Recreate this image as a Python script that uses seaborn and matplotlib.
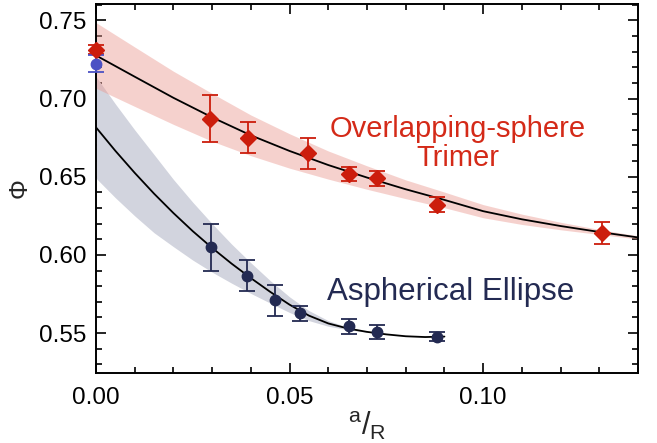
import numpy as np
import pandas as pd
import matplotlib
matplotlib.use("Agg")
import matplotlib.pyplot as plt
from matplotlib.ticker import MultipleLocator
import seaborn as sns

# Measured packing fractions
x_trimer = [0.0, 0.0295, 0.0392, 0.0547, 0.0654, 0.0725, 0.0880, 0.1307]
phi_trimer = [0.7312, 0.687, 0.675, 0.665, 0.652, 0.649, 0.632, 0.614]
err_trimer = [0.003, 0.015, 0.010, 0.010, 0.0045, 0.005, 0.0048, 0.007]

x_ellipse = [0.0, 0.0296, 0.0389, 0.0463, 0.0528, 0.0653, 0.0726, 0.0880]
phi_ellipse = [0.7222, 0.605, 0.5867, 0.5711, 0.5626, 0.5543, 0.5506, 0.5478]
err_ellipse = [0.0054, 0.0150, 0.0098, 0.0100, 0.0049, 0.0048, 0.0046, 0.003]

# Fitted curves and their confidence bands (half-widths)
fit_x_trimer = [0.0, 0.01, 0.02, 0.03, 0.04, 0.05, 0.06, 0.07,
                0.08, 0.09, 0.10, 0.11, 0.12, 0.13, 0.14]
fit_y_trimer = [0.7276, 0.7140, 0.7005, 0.6880, 0.6765, 0.6665, 0.6575, 0.6495,
                0.6420, 0.6352, 0.6280, 0.6228, 0.6185, 0.6147, 0.6112]
band_trimer = [0.021, 0.019, 0.017, 0.0153, 0.013, 0.011, 0.009, 0.0075,
               0.006, 0.005, 0.0042, 0.0033, 0.0024, 0.0016, 0.001]

fit_x_ellipse = [0.0, 0.005, 0.01, 0.015, 0.02, 0.025, 0.03, 0.035, 0.04, 0.045,
                 0.05, 0.055, 0.06, 0.065, 0.07, 0.075, 0.08, 0.085, 0.09]
fit_y_ellipse = [0.6816, 0.6666, 0.6525, 0.6392, 0.6268, 0.6152, 0.6045, 0.5945,
                 0.5852, 0.5764, 0.5682, 0.5612, 0.5562, 0.5530, 0.5508, 0.5492,
                 0.5480, 0.5475, 0.5478]
band_ellipse = [0.0325, 0.030, 0.0275, 0.025, 0.0215, 0.0185, 0.0155, 0.0125,
                0.0098, 0.0072, 0.005, 0.0032, 0.0018, 0.0008, 0.0002, 0.0, 0.0, 0.0, 0.0]

RED = "#cc1d0c"
RED_TEXT = "#d42a18"
NAVY = "#232a52"
BLUE0 = "#4c52c4"

sns.set_style("ticks")
plt.rcParams["font.family"] = ["Liberation Sans", "DejaVu Sans"]
plt.rcParams["mathtext.fontset"] = "custom"
plt.rcParams["mathtext.rm"] = "Liberation Sans"
plt.rcParams["mathtext.it"] = "Liberation Sans"

fig = plt.figure(figsize=(6.57, 4.43), dpi=100)
ax = fig.add_axes([0.1461, 0.158, 0.8250, 0.833])

tri = pd.DataFrame({"x": fit_x_trimer, "y": fit_y_trimer, "h": band_trimer})
ell = pd.DataFrame({"x": fit_x_ellipse, "y": fit_y_ellipse, "h": band_ellipse})

# confidence bands
ax.fill_between(ell["x"], ell["y"] - ell["h"], ell["y"] + ell["h"],
                where=ell["h"] > 0, color="#d2d4de", lw=0, zorder=1)
ax.fill_between(tri["x"], tri["y"] - tri["h"], tri["y"] + tri["h"],
                color="#eb9a92", alpha=0.45, lw=0, zorder=2)

# fits
sns.lineplot(data=tri, x="x", y="y", color="black", lw=1.3, ax=ax, zorder=3)
sns.lineplot(data=ell, x="x", y="y", color="black", lw=1.3, ax=ax, zorder=3)

# data with error bars
eb = ax.errorbar(x_trimer, phi_trimer, yerr=err_trimer, fmt="D", color=RED,
                 ms=8, capsize=5.5, elinewidth=1.3, capthick=1.3, zorder=5)
for art in eb.lines[0:1] + tuple(eb.lines[1]) + tuple(eb.lines[2]):
    art.set_clip_on(False)
ell_colors = [BLUE0] + [NAVY] * (len(x_ellipse) - 1)
for xi, yi, ei, ci in zip(x_ellipse, phi_ellipse, err_ellipse, ell_colors):
    eb = ax.errorbar([xi], [yi], yerr=[ei], fmt="o", color=ci, ms=7.5,
                     capsize=5.5, elinewidth=1.3, capthick=1.3, zorder=5)
    for art in eb.lines[0:1] + tuple(eb.lines[1]) + tuple(eb.lines[2]):
        art.set_clip_on(False)

ax.text(0.0935, 0.6715, "Overlapping-sphere\nTrimer", color=RED_TEXT,
        fontsize=21, ha="center", va="center", linespacing=1.05)
ax.text(0.0915, 0.5764, "Aspherical Ellipse", color=NAVY,
        fontsize=22.5, ha="center", va="center")

ax.set_xlim(0, 0.14)
ax.set_ylim(0.5245, 0.7605)
ax.set_xticks([0.0, 0.05, 0.10])
ax.set_xticklabels(["0.00", "0.05", "0.10"])
ax.set_yticks([0.55, 0.60, 0.65, 0.70, 0.75])
ax.set_yticklabels(["0.55", "0.60", "0.65", "0.70", "0.75"])
ax.xaxis.set_minor_locator(MultipleLocator(0.01))
ax.yaxis.set_minor_locator(MultipleLocator(0.01))
ax.tick_params(which="both", direction="in", top=True, right=True,
               width=1.2, labelsize=17.5, colors="black")
ax.tick_params(axis="x", which="major", length=7, pad=10)
ax.tick_params(axis="y", which="major", length=7, pad=7)
ax.tick_params(which="minor", length=4)
for s in ax.spines.values():
    s.set_visible(True)
    s.set_linewidth(1.4)
    s.set_color("black")

ax.set_xlabel(r"$^{\mathrm{a}}/_{\mathrm{R}}$", fontsize=22, labelpad=0)
ax.set_ylabel("Φ", fontsize=18, rotation=90, labelpad=5)

fig.savefig("out.png", dpi=100)
